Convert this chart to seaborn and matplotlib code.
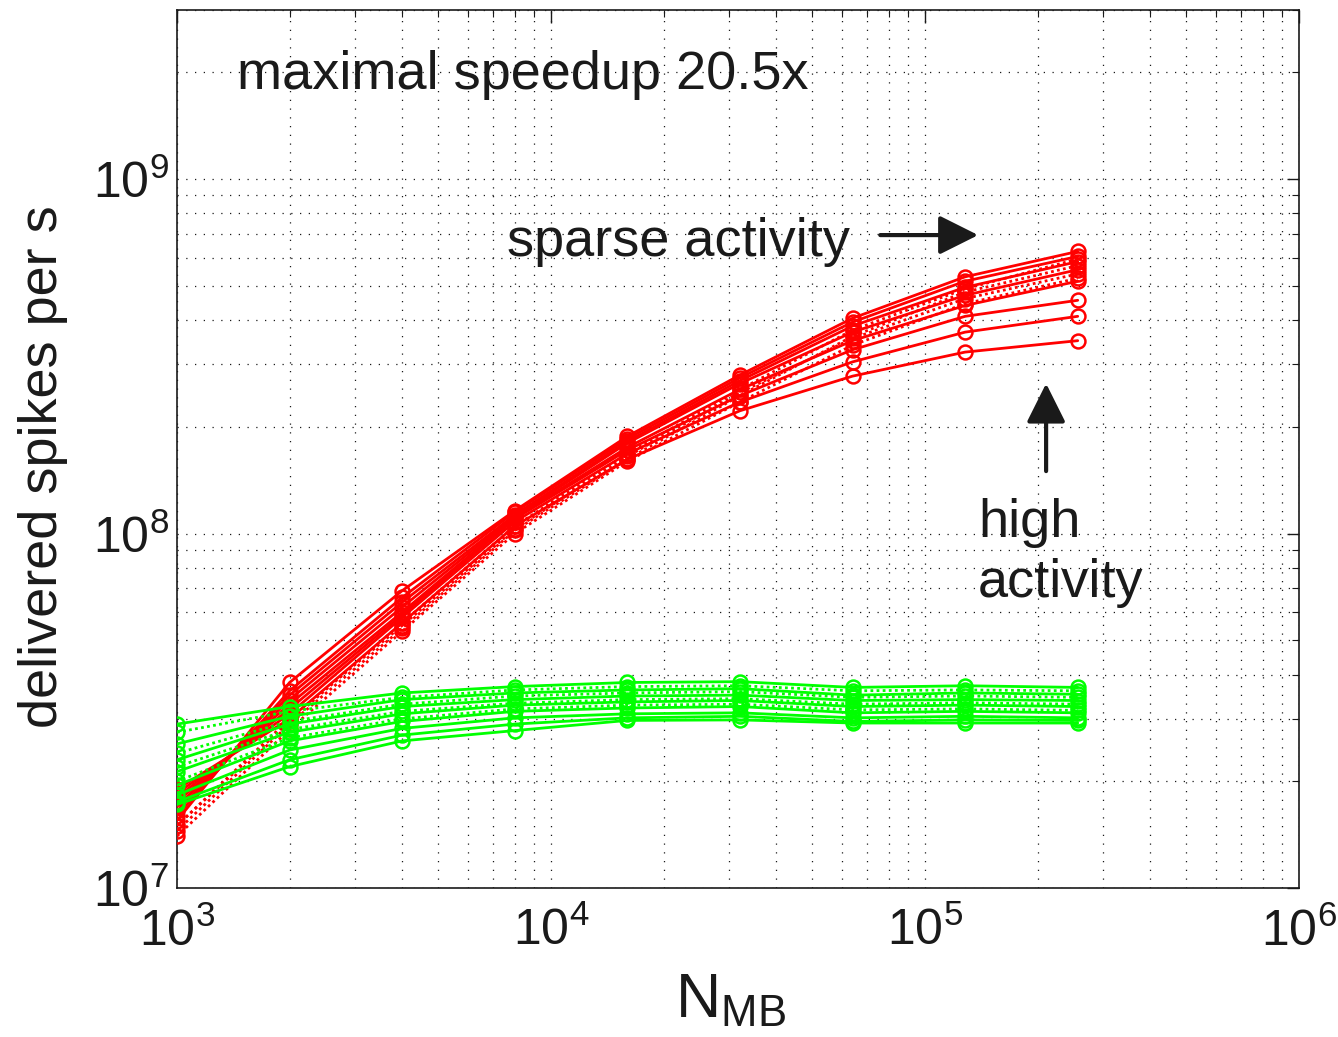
import numpy as np
import pandas as pd
import matplotlib
matplotlib.use("Agg")
import matplotlib.pyplot as plt
import seaborn as sns

# network size N_MB (x axis)
n_mb = [1000, 2000, 4000, 8000, 16000, 32000, 64000, 128000, 256000]

# delivered spikes per s, GPU runs (red), sparse -> high activity
red_solid = [
    [1.55e7, 3.8e7, 6.9e7, 1.16e8, 1.88e8, 2.80e8, 4.05e8, 5.30e8, 6.25e8],
    [1.60e7, 3.6e7, 6.6e7, 1.15e8, 1.85e8, 2.75e8, 3.95e8, 5.15e8, 6.05e8],
    [1.65e7, 3.5e7, 6.4e7, 1.13e8, 1.82e8, 2.70e8, 3.85e8, 4.95e8, 5.85e8],
    [1.70e7, 3.4e7, 6.2e7, 1.12e8, 1.80e8, 2.65e8, 3.70e8, 4.70e8, 5.55e8],
    [1.75e7, 3.3e7, 6.0e7, 1.11e8, 1.75e8, 2.55e8, 3.50e8, 4.40e8, 5.15e8],
    [1.80e7, 3.2e7, 5.9e7, 1.10e8, 1.72e8, 2.45e8, 3.30e8, 4.10e8, 4.55e8],
    [1.85e7, 3.1e7, 5.8e7, 1.08e8, 1.68e8, 2.35e8, 3.05e8, 3.70e8, 4.10e8],
    [1.90e7, 3.0e7, 5.6e7, 1.05e8, 1.62e8, 2.22e8, 2.78e8, 3.25e8, 3.50e8],
]
red_dotted = [
    [1.45e7, 2.9e7, 5.4e7, 1.02e8, 1.62e8, 2.45e8, 3.60e8, 4.80e8, 5.70e8],
    [1.50e7, 3.0e7, 5.5e7, 1.03e8, 1.65e8, 2.50e8, 3.55e8, 4.60e8, 5.40e8],
    [1.40e7, 2.8e7, 5.3e7, 1.00e8, 1.60e8, 2.35e8, 3.40e8, 4.45e8, 5.25e8],
    [1.50e7, 2.95e7, 5.6e7, 1.05e8, 1.68e8, 2.55e8, 3.75e8, 4.90e8, 5.95e8],
]

# CPU runs (green)
green_solid = [
    [2.90e7, 3.25e7, 3.55e7, 3.70e7, 3.80e7, 3.82e7, 3.68e7, 3.72e7, 3.68e7],
    [2.55e7, 3.05e7, 3.40e7, 3.55e7, 3.62e7, 3.65e7, 3.50e7, 3.55e7, 3.52e7],
    [2.30e7, 2.90e7, 3.25e7, 3.40e7, 3.48e7, 3.50e7, 3.38e7, 3.40e7, 3.38e7],
    [2.13e7, 2.75e7, 3.10e7, 3.28e7, 3.35e7, 3.38e7, 3.25e7, 3.28e7, 3.25e7],
    [1.95e7, 2.60e7, 2.95e7, 3.15e7, 3.22e7, 3.25e7, 3.12e7, 3.15e7, 3.12e7],
    [1.83e7, 2.45e7, 2.82e7, 3.02e7, 3.10e7, 3.12e7, 3.02e7, 3.05e7, 3.02e7],
    [1.75e7, 2.30e7, 2.70e7, 2.90e7, 3.02e7, 3.05e7, 2.95e7, 2.98e7, 2.97e7],
    [1.72e7, 2.20e7, 2.60e7, 2.78e7, 2.97e7, 2.98e7, 2.92e7, 2.92e7, 2.92e7],
]
green_dotted = [
    [2.75e7, 3.15e7, 3.45e7, 3.62e7, 3.70e7, 3.72e7, 3.60e7, 3.62e7, 3.60e7],
    [2.40e7, 2.95e7, 3.30e7, 3.48e7, 3.55e7, 3.58e7, 3.45e7, 3.48e7, 3.45e7],
    [2.20e7, 2.80e7, 3.15e7, 3.32e7, 3.40e7, 3.42e7, 3.30e7, 3.33e7, 3.30e7],
    [2.00e7, 2.65e7, 3.00e7, 3.20e7, 3.28e7, 3.30e7, 3.18e7, 3.20e7, 3.17e7],
]

#%% long table for seaborn
rows = []
run = 0
for device, kind, runs in [('gpu', 'solid', red_solid), ('gpu', 'dotted', red_dotted),
                           ('cpu', 'solid', green_solid), ('cpu', 'dotted', green_dotted)]:
    for vals in runs:
        for n, v in zip(n_mb, vals):
            rows.append(dict(N=n, rate=v, device=device, kind=kind, run=run))
        run += 1
df = pd.DataFrame(rows)

sns.set_theme(style="white")
plt.rcParams['font.family'] = ['Liberation Sans', 'DejaVu Sans']
plt.rcParams['mathtext.fontset'] = 'custom'
plt.rcParams['mathtext.rm'] = 'Liberation Sans'
plt.rcParams['mathtext.it'] = 'Liberation Sans:italic'
plt.rcParams['mathtext.default'] = 'regular'
for key in ['text.color', 'axes.labelcolor', 'xtick.color', 'ytick.color']:
    plt.rcParams[key] = 'k'

fig = plt.figure(figsize=(13.38, 10.37), dpi=100)
ax = fig.add_axes([0.1323, 0.1437, 0.8386, 0.8467])

colors = {'gpu': '#ff0000', 'cpu': '#00ff00'}
for device in ['gpu', 'cpu']:
    c = colors[device]
    sns.lineplot(data=df[df.device == device], x='N', y='rate', units='run', estimator=None,
                 style='kind', dashes={'solid': '', 'dotted': (1, 1.2)},
                 color=c, marker='o', mfc='none', mec=c, ms=10, mew=1.8, lw=2,
                 legend=False, ax=ax, zorder=3)

ax.set_xscale('log')
ax.set_yscale('log')
ax.set_xlim(1e3, 1e6)
ax.set_ylim(1e7, 3e9)

# matlab style box + dotted grid
ax.grid(True, which='both', color='k', linestyle=(0, (1, 6)), linewidth=0.9)
for s in ax.spines.values():
    s.set_visible(True)
    s.set_color('k')
    s.set_linewidth(1.2)
ax.tick_params(which='both', direction='in', top=True, right=True, color='k')
ax.tick_params(which='major', length=9, width=1)
ax.tick_params(which='minor', length=5, width=0.8)
ax.tick_params(axis='x', which='major', labelsize=36, pad=14)
ax.tick_params(axis='y', which='major', labelsize=36, pad=6)

ax.set_xlabel(r'$\mathregular{N_{MB}}$', fontsize=45)
ax.set_ylabel('delivered spikes per s', fontsize=39)
ax.xaxis.set_label_coords(0.493, -0.095)
ax.yaxis.set_label_coords(-0.097, 0.48)

ax.text(0.0535, 0.926, 'maximal speedup 20.5x', transform=ax.transAxes,
        fontsize=39, va='center', ha='left')
ax.text(0.294, 0.736, 'sparse activity', transform=ax.transAxes,
        fontsize=39, va='center', ha='left')
ax.text(0.714, 0.3815, 'high\nactivity', transform=ax.transAxes,
        fontsize=39, va='center', ha='left', linespacing=1.27)

arrow = dict(arrowstyle='-|>,head_length=1.2,head_width=0.6', lw=3, color='k',
             mutation_scale=20, shrinkA=0, shrinkB=0)
ax.annotate('', xy=(1.387e5, 6.95e8), xytext=(7.59e4, 6.95e8), arrowprops=arrow)
ax.annotate('', xy=(2.107e5, 2.65e8), xytext=(2.107e5, 1.50e8), arrowprops=arrow)

fig.savefig('out.png', dpi=100)
